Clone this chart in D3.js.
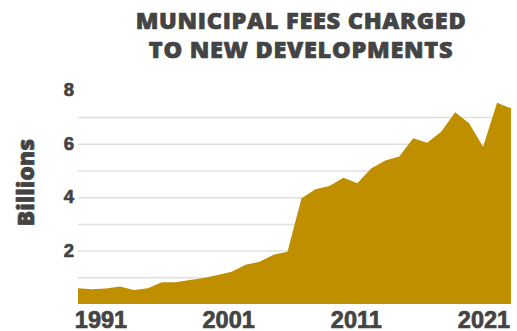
<!DOCTYPE html>
<html>
<head>
<meta charset="utf-8">
<script src="https://cdn.jsdelivr.net/npm/d3@7"></script>
<style>
  html, body { margin: 0; padding: 0; background: #fff; }
  svg { display: block; font-family: "Open Sans", sans-serif; }
  .axis .domain { display: none; }
  .axis text, .heavy { fill: #444; font-weight: 800; stroke: #444; stroke-width: 0.7px; stroke-linejoin: round; }
  .grid line { stroke: #e0e0e0; stroke-width: 1.5; }
  .grid .domain { display: none; }
</style>
</head>
<body>
<svg id="chart" width="517" height="331"></svg>
<script>
// Municipal fees charged to new developments, billions of dollars per year
const years = d3.range(1991, 2023);
const fees = [
  0.59, 0.55, 0.58, 0.66, 0.52, 0.59, 0.81, 0.81, 0.90, 0.97,
  1.09, 1.21, 1.47, 1.58, 1.84, 1.96, 3.96, 4.30, 4.42, 4.73,
  4.52, 5.08, 5.37, 5.52, 6.21, 6.04, 6.45, 7.18, 6.77, 5.89,
  7.54, 7.33
];
const yTicks = [2, 4, 6, 8];
const gridValues = [1, 2, 3, 4, 5, 6, 7];
const xTickLabels = ["1991", "2001", "2011", "2021"];
const titleLines = ["MUNICIPAL FEES CHARGED", "TO NEW DEVELOPMENTS"];

const svg = d3.select("#chart");
const plot = { left: 78, right: 511, top: 90.4, bottom: 304 };

const x = d3.scaleLinear().domain(d3.extent(years)).range([plot.left, plot.right]);
const y = d3.scaleLinear().domain([0, 8]).range([plot.bottom, plot.top]);
// year labels are spread evenly along the bottom edge
const xLabels = d3.scalePoint().domain(xTickLabels).range([plot.left + 22.5, plot.right - 27.5]);

// horizontal guides
svg.append("g")
  .attr("class", "grid")
  .attr("transform", `translate(${plot.left},0)`)
  .call(d3.axisLeft(y).tickValues(gridValues).tickSize(-(plot.right - plot.left)).tickFormat(""));

// filled area
const area = d3.area()
  .x((d, i) => x(years[i]))
  .y0(y(0))
  .y1(d => y(d));

svg.append("path")
  .datum(fees)
  .attr("d", area)
  .attr("fill", "#BF8F00");

// value axis
svg.append("g")
  .attr("class", "axis")
  .attr("transform", `translate(${plot.left},0)`)
  .call(d3.axisLeft(y).tickValues(yTicks).tickSize(0).tickPadding(4))
  .call(g => g.selectAll("text").attr("font-size", 18.5).attr("dy", "0.3em"));

// year axis
svg.append("g")
  .attr("class", "axis")
  .attr("transform", `translate(0,${plot.bottom})`)
  .call(d3.axisBottom(xLabels).tickSize(0).tickPadding(0))
  .call(g => g.selectAll("line").remove())
  .call(g => g.selectAll("text").attr("font-size", 23.5).attr("dy", "0").attr("y", 24));

// unit label
svg.append("text")
  .attr("class", "heavy")
  .attr("transform", "translate(34,182.5) rotate(-90)")
  .attr("text-anchor", "middle")
  .attr("font-size", 23)
  .text("Billions");

// title
svg.append("g")
  .selectAll("text")
  .data(titleLines)
  .join("text")
  .attr("class", "heavy")
  .attr("x", 301)
  .attr("y", (d, i) => 29.3 + i * 29)
  .attr("text-anchor", "middle")
  .attr("font-size", 23.5)
  .attr("letter-spacing", 0.7)
  .text(d => d);
</script>
</body>
</html>
